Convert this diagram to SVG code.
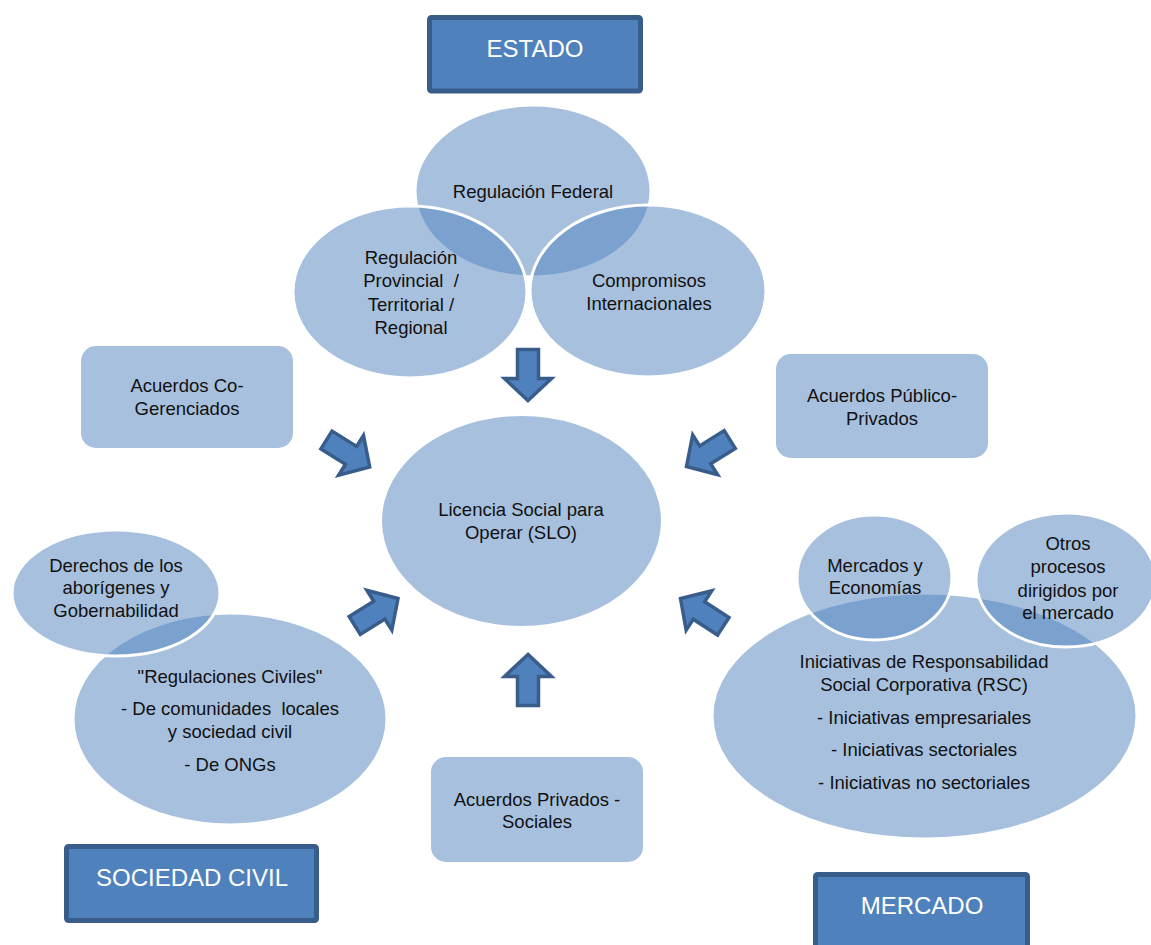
<svg xmlns="http://www.w3.org/2000/svg" width="1151" height="945" viewBox="0 0 1151 945">
<style>
.t{font-family:"Liberation Sans",Arial,sans-serif;font-size:18.5px;fill:#111;text-anchor:middle}
.h{font-family:"Liberation Sans",Arial,sans-serif;font-size:24px;fill:#fff;text-anchor:middle}
.title{fill:#4f81bd;stroke:#385d8a;stroke-width:5}
.box{fill:#a7c0de}
.venn{fill:#4f81bd;fill-opacity:0.5;stroke:#fff;stroke-width:3}
.solid{fill:#a7c0de}
.arr{fill:#4f81bd;stroke:#385d8a;stroke-width:3.5;stroke-linejoin:miter}
</style>
<defs>
<path id="arrow" d="M0,0 L-22,-23.5 L-22,-10.5 L-51,-10.5 L-51,10.5 L-22,10.5 L-22,23.5 Z"/>
</defs>
<rect width="1151" height="945" fill="#fff"/>

<g id="estado">
<rect class="title" x="429.5" y="17.5" width="211" height="73.5" rx="2"/>
<text class="h" x="535" y="57">ESTADO</text>
</g>

<g id="estado-venn">
<g id="reg-federal">
<ellipse class="venn" cx="533" cy="191" rx="118" ry="86"/>
</g>
<g id="reg-provincial">
<ellipse class="venn" cx="410" cy="292" rx="117" ry="86"/>
</g>
<g id="compromisos">
<ellipse class="venn" cx="648" cy="291" rx="118" ry="86"/>
</g>
<text class="t" x="533" y="198">Regulación Federal</text>
<text class="t" x="411" y="264">Regulación</text>
<text class="t" x="411" y="287" xml:space="preserve">Provincial  /</text>
<text class="t" x="411" y="311">Territorial /</text>
<text class="t" x="411" y="334">Regional</text>
<text class="t" x="649" y="287">Compromisos</text>
<text class="t" x="649" y="310">Internacionales</text>
</g>

<g id="acuerdos-co">
<rect class="box" x="81" y="346" width="212" height="102" rx="15"/>
<text class="t" x="187" y="392">Acuerdos Co-</text>
<text class="t" x="187" y="415">Gerenciados</text>
</g>

<g id="acuerdos-pp">
<rect class="box" x="776" y="354" width="212" height="104" rx="15"/>
<text class="t" x="882" y="402">Acuerdos Público-</text>
<text class="t" x="882" y="425">Privados</text>
</g>

<g id="slo">
<ellipse class="solid" cx="521.5" cy="521" rx="139.5" ry="105"/>
<text class="t" x="521" y="516">Licencia Social para</text>
<text class="t" x="521" y="539">Operar (SLO)</text>
</g>

<g id="civil-venn">
<g id="reg-civiles">
<ellipse class="venn" cx="230" cy="719" rx="157" ry="106"/>
</g>
<g id="derechos">
<ellipse class="venn" cx="116" cy="593" rx="104" ry="63"/>
</g>
<text class="t" x="116" y="572">Derechos de los</text>
<text class="t" x="116" y="594">aborígenes y</text>
<text class="t" x="116" y="617">Gobernabilidad</text>
<text class="t" x="230" y="683">"Regulaciones Civiles"</text>
<text class="t" x="230" y="715" xml:space="preserve">- De comunidades  locales</text>
<text class="t" x="230" y="738">y sociedad civil</text>
<text class="t" x="230" y="771">- De ONGs</text>
</g>

<g id="acuerdos-ps">
<rect class="box" x="431" y="757" width="212" height="105" rx="15"/>
<text class="t" x="537" y="806">Acuerdos Privados -</text>
<text class="t" x="537" y="828">Sociales</text>
</g>

<g id="mercado-venn">
<g id="rsc">
<ellipse class="venn" cx="924.5" cy="716" rx="212.5" ry="123"/>
</g>
<g id="mercados-economias">
<ellipse class="venn" cx="874.5" cy="577.5" rx="77.5" ry="62.5"/>
</g>
<g id="otros-procesos">
<ellipse class="venn" cx="1066" cy="580" rx="90" ry="67"/>
</g>
<text class="t" x="875" y="572">Mercados y</text>
<text class="t" x="875" y="594">Economías</text>
<text class="t" x="1068" y="550">Otros</text>
<text class="t" x="1068" y="573">procesos</text>
<text class="t" x="1068" y="597">dirigidos por</text>
<text class="t" x="1068" y="619">el mercado</text>
<text class="t" x="924" y="668">Iniciativas de Responsabilidad</text>
<text class="t" x="924" y="691">Social Corporativa (RSC)</text>
<text class="t" x="924" y="724">- Iniciativas empresariales</text>
<text class="t" x="924" y="756">- Iniciativas sectoriales</text>
<text class="t" x="924" y="789">- Iniciativas no sectoriales</text>
</g>

<g id="sociedad-civil">
<rect class="title" x="66.5" y="846.5" width="250" height="74" rx="2"/>
<text class="h" x="192" y="886">SOCIEDAD CIVIL</text>
</g>

<g id="mercado">
<rect class="title" x="815.5" y="874.5" width="212" height="82" rx="2"/>
<text class="h" x="922" y="914">MERCADO</text>
</g>

<g id="connectors">
<use href="#arrow" class="arr" transform="translate(528,400.5) rotate(90)"/>
<use href="#arrow" class="arr" transform="translate(528,654.5) rotate(-90)"/>
<use href="#arrow" class="arr" transform="translate(369.7,467) rotate(32)"/>
<use href="#arrow" class="arr" transform="translate(398,598.5) rotate(-32)"/>
<use href="#arrow" class="arr" transform="translate(686.5,466.5) rotate(148)"/>
<use href="#arrow" class="arr" transform="translate(680.5,598.5) rotate(-147)"/>
</g>
</svg>
